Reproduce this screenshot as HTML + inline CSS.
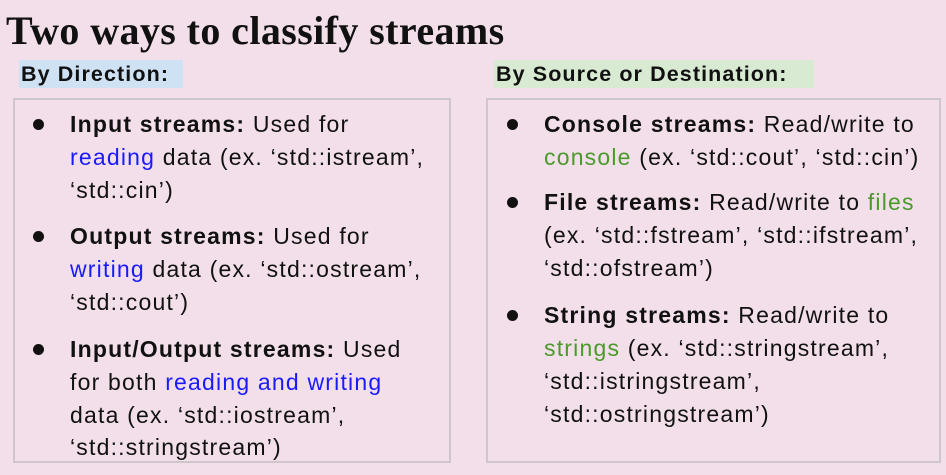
<!DOCTYPE html>
<html><head><meta charset="utf-8"><style>
body{margin:0;width:946px;height:475px;background:#f2dfea;position:relative;overflow:hidden;font-family:"Liberation Sans",sans-serif;color:#111}
.t{position:absolute;left:6px;top:7px;font-family:"Liberation Serif",serif;font-weight:bold;font-size:40px;letter-spacing:0.4px}
.h{position:absolute;font-weight:bold;font-size:21.5px;height:28px;line-height:28px;padding:0 2px;letter-spacing:1.1px}
.box{position:absolute;border:2px solid #cdc6cb;box-sizing:border-box}
.l{position:absolute;font-size:23px;line-height:33px;white-space:nowrap;letter-spacing:1.2px}
.b{position:absolute;width:11px;height:11px;border-radius:50%;background:#111}
.bl{color:#1a1aff}.gr{color:#4a9a2a}
</style></head><body>
<div class="t">Two ways to classify streams</div>
<div class="h" style="left:19px;top:60px;width:160px;background:#cfe2f3">By Direction:</div>
<div class="h" style="left:494px;top:60px;width:316px;background:#d9ead3">By Source or Destination:</div>
<div class="box" style="left:13px;top:98px;width:438px;height:365px"></div>
<div class="box" style="left:486px;top:98px;width:455px;height:365px"></div>

<div class="b" style="left:33px;top:119px"></div>
<div class="l" style="left:70px;top:108px"><b>Input streams:</b> Used for</div>
<div class="l" style="left:70px;top:141px"><span class="bl">reading</span> data (ex. ‘std::istream’,</div>
<div class="l" style="left:70px;top:174px">‘std::cin’)</div>
<div class="b" style="left:33px;top:231px"></div>
<div class="l" style="left:70px;top:220px"><b>Output streams:</b> Used for</div>
<div class="l" style="left:70px;top:253px"><span class="bl">writing</span> data (ex. ‘std::ostream’,</div>
<div class="l" style="left:70px;top:286px">‘std::cout’)</div>
<div class="b" style="left:33px;top:344px"></div>
<div class="l" style="left:70px;top:333px"><b>Input/Output streams:</b> Used</div>
<div class="l" style="left:70px;top:366px">for both <span class="bl">reading and writing</span></div>
<div class="l" style="left:70px;top:399px">data (ex. ‘std::iostream’,</div>
<div class="l" style="left:70px;top:431px">‘std::stringstream’)</div>

<div class="b" style="left:507px;top:119px"></div>
<div class="l" style="left:544px;top:108px"><b>Console streams:</b> Read/write to</div>
<div class="l" style="left:544px;top:141px"><span class="gr">console</span> (ex. ‘std::cout’, ‘std::cin’)</div>
<div class="b" style="left:507px;top:197px"></div>
<div class="l" style="left:544px;top:186px"><b>File streams:</b> Read/write to <span class="gr">files</span></div>
<div class="l" style="left:544px;top:219px">(ex. ‘std::fstream’, ‘std::ifstream’,</div>
<div class="l" style="left:544px;top:252px">‘std::ofstream’)</div>
<div class="b" style="left:507px;top:310px"></div>
<div class="l" style="left:544px;top:299px"><b>String streams:</b> Read/write to</div>
<div class="l" style="left:544px;top:332px"><span class="gr">strings</span> (ex. ‘std::stringstream’,</div>
<div class="l" style="left:544px;top:365px">‘std::istringstream’,</div>
<div class="l" style="left:544px;top:398px">‘std::ostringstream’)</div>
</body></html>
